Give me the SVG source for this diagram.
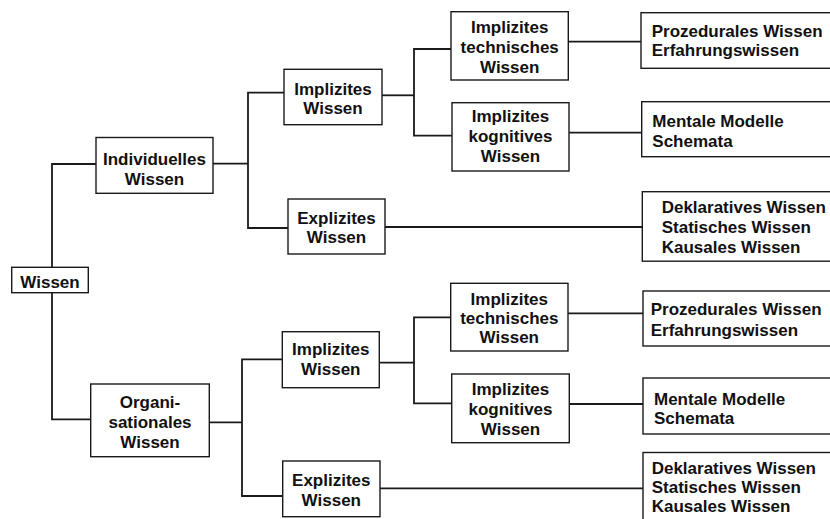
<svg xmlns="http://www.w3.org/2000/svg" width="830" height="519" viewBox="0 0 830 519">
  <style>
    .bg { fill: #ffffff; }
    .box { fill: #ffffff; stroke: #1a1a1a; stroke-width: 1.4; }
    .wire { fill: none; stroke: #1a1a1a; stroke-width: 1.8; }
    text { font-family: "Liberation Sans", Arial, Helvetica, sans-serif; font-weight: bold; font-size: 17px; fill: #111111; }
    .c { text-anchor: middle; }
  </style>
  <rect class="bg" x="0" y="0" width="830" height="519"/>

  <!-- connectors -->
  <g id="connectors">
    <path class="wire" d="M96,164 H52 V419.3 H91"/>
    <!-- individual branch -->
    <path class="wire" d="M213,163.7 H248"/>
    <path class="wire" d="M284,92.7 H248 V228 H288"/>
    <path class="wire" d="M382,95.3 H414"/>
    <path class="wire" d="M451,49 H414 V135.7 H452"/>
    <path class="wire" d="M568,41.7 H641"/>
    <path class="wire" d="M569,132.7 H642"/>
    <path class="wire" d="M385,227 H642"/>
    <!-- organisational branch -->
    <path class="wire" d="M209.3,422.3 H242"/>
    <path class="wire" d="M282.3,359.3 H242 V496 H282.7"/>
    <path class="wire" d="M379.3,362.7 H414"/>
    <path class="wire" d="M450.7,317.3 H414 V403.3 H451.7"/>
    <path class="wire" d="M568,313.3 H643"/>
    <path class="wire" d="M569.3,404 H643"/>
    <path class="wire" d="M380,488.3 H643"/>
  </g>

  <!-- root -->
  <g id="wissen">
    <rect class="box" x="11.7" y="267.3" width="76.6" height="25.4"/>
    <text class="c" x="50" y="287.5">Wissen</text>
  </g>

  <!-- individual knowledge -->
  <g id="individuelles">
    <rect class="box" x="96" y="137.5" width="117" height="55.8"/>
    <text class="c" x="154.5" y="165">Individuelles</text>
    <text class="c" x="154.5" y="184.5">Wissen</text>
  </g>
  <g id="ind-implizit">
    <rect class="box" x="284" y="69.3" width="98" height="55.4"/>
    <text class="c" x="333" y="95">Implizites</text>
    <text class="c" x="333" y="114">Wissen</text>
  </g>
  <g id="ind-explizit">
    <rect class="box" x="288" y="199" width="97" height="55"/>
    <text class="c" x="336.5" y="223.5">Explizites</text>
    <text class="c" x="336.5" y="242.7">Wissen</text>
  </g>
  <g id="ind-technisch">
    <rect class="box" x="451" y="11.7" width="117.3" height="68.3"/>
    <text class="c" x="509.7" y="32.5">Implizites</text>
    <text class="c" x="509.7" y="53">technisches</text>
    <text class="c" x="509.7" y="72.7">Wissen</text>
  </g>
  <g id="ind-kognitiv">
    <rect class="box" x="452" y="102.7" width="117" height="68.3"/>
    <text class="c" x="510.5" y="122">Implizites</text>
    <text class="c" x="510.5" y="142">kognitives</text>
    <text class="c" x="510.5" y="162.3">Wissen</text>
  </g>
  <g id="ind-prozedural">
    <rect class="box" x="641" y="12.7" width="200" height="55.6"/>
    <text x="651.7" y="36.5">Prozedurales Wissen</text>
    <text x="651.7" y="55.5">Erfahrungswissen</text>
  </g>
  <g id="ind-mental">
    <rect class="box" x="641.7" y="101.7" width="200" height="55"/>
    <text x="652.3" y="127.3">Mentale Modelle</text>
    <text x="652.3" y="146.7">Schemata</text>
  </g>
  <g id="ind-deklarativ">
    <rect class="box" x="642.3" y="191.7" width="200" height="69.5"/>
    <text x="661.7" y="213.3">Deklaratives Wissen</text>
    <text x="661.7" y="233.3">Statisches Wissen</text>
    <text x="661.7" y="252.5">Kausales Wissen</text>
  </g>

  <!-- organisational knowledge -->
  <g id="organisationales">
    <rect class="box" x="90.7" y="384" width="118.6" height="72.7"/>
    <text class="c" x="150" y="407.5">Organi-</text>
    <text class="c" x="150" y="427.5">sationales</text>
    <text class="c" x="150" y="447.5">Wissen</text>
  </g>
  <g id="org-implizit">
    <rect class="box" x="282.3" y="331.7" width="97" height="56"/>
    <text class="c" x="330.8" y="355">Implizites</text>
    <text class="c" x="330.8" y="375">Wissen</text>
  </g>
  <g id="org-explizit">
    <rect class="box" x="282.7" y="461" width="97.3" height="55.7"/>
    <text class="c" x="331.3" y="486">Explizites</text>
    <text class="c" x="331.3" y="505.7">Wissen</text>
  </g>
  <g id="org-technisch">
    <rect class="box" x="450.7" y="283.3" width="117.3" height="67.7"/>
    <text class="c" x="509.3" y="305">Implizites</text>
    <text class="c" x="509.3" y="324">technisches</text>
    <text class="c" x="509.3" y="343.3">Wissen</text>
  </g>
  <g id="org-kognitiv">
    <rect class="box" x="451.7" y="374" width="117.6" height="68.7"/>
    <text class="c" x="510.5" y="395">Implizites</text>
    <text class="c" x="510.5" y="415">kognitives</text>
    <text class="c" x="510.5" y="435">Wissen</text>
  </g>
  <g id="org-prozedural">
    <rect class="box" x="643" y="291" width="200" height="55"/>
    <text x="650.7" y="315">Prozedurales Wissen</text>
    <text x="650.7" y="336">Erfahrungswissen</text>
  </g>
  <g id="org-mental">
    <rect class="box" x="643" y="378" width="200" height="56"/>
    <text x="654" y="405">Mentale Modelle</text>
    <text x="654" y="424.3">Schemata</text>
  </g>
  <g id="org-deklarativ">
    <rect class="box" x="643" y="452.5" width="200" height="80"/>
    <text x="651.7" y="474">Deklaratives Wissen</text>
    <text x="651.7" y="493.3">Statisches Wissen</text>
    <text x="651.7" y="512.3">Kausales Wissen</text>
  </g>
</svg>
